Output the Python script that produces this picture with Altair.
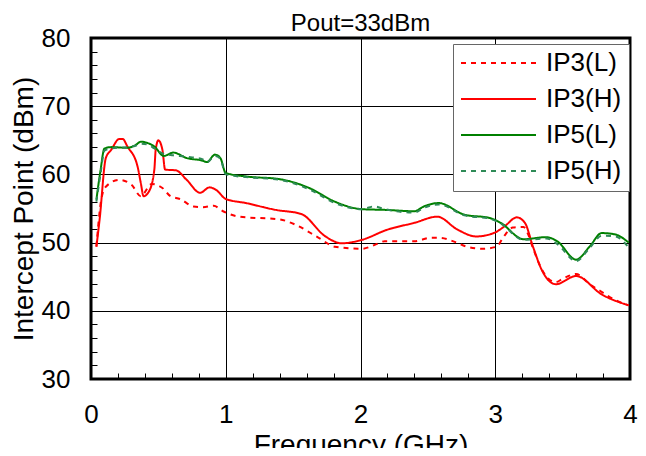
import altair as alt
import pandas as pd

series_names = ["IP3(L)", "IP3(H)", "IP5(L)", "IP5(H)"]
series_colors = ["#ff0000", "#ff0000", "#008000", "#2e8b57"]
series_dashes = [[5, 5], [1, 0], [1, 0], [5, 5]]

ip3l_f = [0.04, 0.076, 0.11, 0.21, 0.30, 0.37, 0.45, 0.53, 0.59, 0.66, 0.76, 0.83, 0.91, 0.98, 1.10,
          1.40, 1.52, 1.69, 1.81, 2.01, 2.11, 2.18, 2.40, 2.52, 2.59, 2.70, 2.79, 2.91, 3.01, 3.06,
          3.13, 3.21, 3.24, 3.28, 3.35, 3.45, 3.50, 3.60, 3.70, 3.78, 3.89, 3.99]
ip3l_v = [49.4, 56.3, 58.2, 59.2, 58.5, 56.8, 58.6, 58.0, 56.8, 56.4, 55.3, 55.2, 55.4, 54.6, 53.8,
          53.4, 52.6, 50.7, 49.4, 49.1, 49.7, 50.2, 50.2, 50.7, 50.7, 50.1, 49.4, 49.1, 49.4, 50.8,
          52.2, 52.3, 51.4, 49.2, 45.9, 44.2, 44.7, 45.4, 43.9, 42.9, 41.6, 40.8]

ip3h_f = [0.04, 0.064, 0.11, 0.15, 0.21, 0.235, 0.27, 0.345, 0.37, 0.39, 0.43, 0.47, 0.48, 0.50, 0.53,
          0.55, 0.63, 0.71, 0.81, 0.88, 0.93, 1.00, 1.15, 1.37, 1.56, 1.74, 1.86, 2.01, 2.20, 2.40,
          2.57, 2.72, 2.86, 3.00, 3.07, 3.16, 3.22, 3.28, 3.35, 3.45, 3.60, 3.79, 3.99]
ip3h_v = [49.4, 53.4, 62.4, 63.6, 65.2, 65.2, 64.1, 61.2, 58.7, 56.8, 57.5, 60.7, 63.6, 65.0, 63.6,
          60.7, 60.6, 59.2, 57.3, 58.1, 57.7, 56.4, 55.8, 54.8, 54.2, 50.9, 49.9, 50.4, 51.9, 52.9,
          53.8, 51.9, 50.9, 51.5, 52.4, 53.7, 52.9, 49.4, 45.8, 43.9, 45.1, 42.4, 40.8]

ip5l_f = [0.04, 0.07, 0.10, 0.15, 0.27, 0.33, 0.37, 0.42, 0.47, 0.54, 0.61, 0.71, 0.83, 0.86, 0.92,
          0.96, 1.00, 1.15, 1.40, 1.62, 1.81, 2.01, 2.18, 2.40, 2.47, 2.58, 2.77, 2.96, 3.04, 3.21,
          3.38, 3.46, 3.60, 3.70, 3.79, 3.89, 3.99]
ip5l_v = [56.3, 60.5, 63.8, 64.0, 63.9, 64.3, 64.8, 64.6, 64.1, 62.7, 63.2, 62.4, 62.0, 61.8, 62.9,
          62.4, 60.2, 59.7, 59.3, 58.0, 56.0, 54.9, 54.8, 54.6, 55.3, 55.8, 54.1, 53.6, 52.9, 50.5,
          50.8, 50.2, 47.5, 49.4, 51.4, 51.2, 50.0]

ip5h_f = [0.04, 0.07, 0.10, 0.15, 0.27, 0.33, 0.37, 0.42, 0.47, 0.54, 0.61, 0.71, 0.83, 0.86, 0.92,
          0.96, 1.00, 1.15, 1.40, 1.62, 1.81, 2.01, 2.10, 2.18, 2.40, 2.47, 2.58, 2.77, 2.96, 3.04,
          3.21, 3.38, 3.46, 3.60, 3.70, 3.79, 3.89, 3.99]
ip5h_v = [56.0, 60.0, 63.5, 63.8, 64.0, 64.2, 64.5, 64.4, 63.8, 63.0, 62.8, 62.6, 62.2, 61.8, 62.7,
          62.3, 60.0, 59.6, 59.2, 57.8, 55.8, 54.9, 55.3, 54.9, 54.4, 55.1, 55.6, 54.0, 53.5, 52.8,
          50.4, 50.6, 49.8, 47.3, 49.2, 51.0, 50.9, 49.3]

x_tick_values = [round(i * 0.2, 1) for i in range(21)]
y_tick_values = list(range(30, 81, 2))

rows = []
for name, fs, vs in zip(series_names, [ip3l_f, ip3h_f, ip5l_f, ip5h_f], [ip3l_v, ip3h_v, ip5l_v, ip5h_v]):
    for i, (f, v) in enumerate(zip(fs, vs)):
        rows.append({"series": name, "freq": f, "ip": v, "idx": i})
df = pd.DataFrame(rows)

FONT = "Liberation Sans"

legend_opts = dict(
    title=None, orient="none", legendX=362, legendY=6,
    symbolType="stroke", symbolSize=5625, symbolStrokeWidth=2,
    labelFont=FONT, labelFontSize=26, labelColor="black", labelOffset=9,
    clipHeight=24, rowPadding=10, padding=7,
    fillColor="white", strokeColor="#666666",
)

chart = alt.Chart(df).mark_line(strokeWidth=2, interpolate="monotone").encode(
    x=alt.X("freq:Q", scale=alt.Scale(domain=[0, 4], nice=False, zero=False),
            axis=alt.Axis(title="Frequency (GHz)", values=x_tick_values,
                          labelExpr="abs(datum.value - round(datum.value)) < 0.001 ? format(datum.value, 'd') : ''",
                          labelOverlap=False, labelFlush=False,
                          grid=True, gridColor="black", gridWidth=1,
                          gridOpacity={"condition": {"test": "abs(datum.value - round(datum.value)) < 0.001", "value": 1}, "value": 0},
                          domain=False, ticks=True, tickSize=6, tickColor="black", tickWidth=1, offset=-6,
                          labelFont=FONT, labelFontSize=26, labelColor="black", labelPadding=22,
                          titleFont=FONT, titleFontSize=28, titleFontWeight="normal", titleColor="black",
                          titlePadding=4)),
    y=alt.Y("ip:Q", scale=alt.Scale(domain=[30, 80], nice=False, zero=False),
            axis=alt.Axis(title="Intercept Point (dBm)", values=y_tick_values,
                          labelExpr="datum.value % 10 === 0 ? format(datum.value, 'd') : ''",
                          labelOverlap=False, labelFlush=False,
                          grid=True, gridColor="black", gridWidth=1,
                          gridOpacity={"condition": {"test": "datum.value % 10 === 0", "value": 1}, "value": 0},
                          domain=False, ticks=True, tickSize=6, tickColor="black", tickWidth=1, offset=-6,
                          labelFont=FONT, labelFontSize=26, labelColor="black", labelPadding=21,
                          titleFont=FONT, titleFontSize=28, titleFontWeight="normal", titleColor="black",
                          titlePadding=3)),
    color=alt.Color("series:N", scale=alt.Scale(domain=series_names, range=series_colors),
                    legend=alt.Legend(**legend_opts)),
    strokeDash=alt.StrokeDash("series:N", scale=alt.Scale(domain=series_names, range=series_dashes),
                              legend=alt.Legend(**legend_opts)),
    order="idx:Q",
).properties(
    width=539, height=341,
    title=alt.Title("Pout=33dBm", font=FONT, fontSize=24, fontWeight="normal", color="black", offset=-11),
    autosize=alt.AutoSizeParams(type="none"),
    padding={"left": 83, "top": 30, "right": 8, "bottom": 69},
).configure_view(stroke="black", strokeWidth=3)

chart.save("out.html", embed_options={"renderer": "svg", "actions": False})
